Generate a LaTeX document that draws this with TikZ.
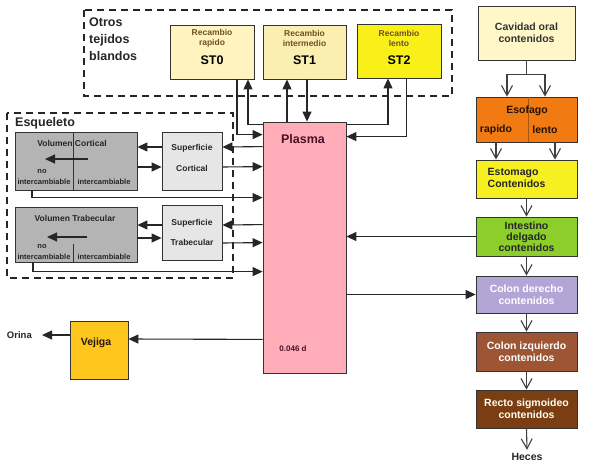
\documentclass[tikz,border=0pt]{standalone}
\usepackage{fontspec}
\setmainfont{Liberation Sans}
\usetikzlibrary{arrows.meta}
\definecolor{stzero}{HTML}{FFF4C0}
\definecolor{stone}{HTML}{FAEEB0}
\definecolor{sttwo}{HTML}{F8F018}
\definecolor{stxt}{HTML}{6E5220}
\definecolor{cavc}{HTML}{FFF7C8}
\definecolor{esoc}{HTML}{F27A12}
\definecolor{estc}{HTML}{F7F020}
\definecolor{intc}{HTML}{8CCF2A}
\definecolor{coldc}{HTML}{B3A6D6}
\definecolor{colic}{HTML}{9E5533}
\definecolor{recc}{HTML}{7A3E12}
\definecolor{plasc}{HTML}{FFADB9}
\definecolor{plast}{HTML}{4A1028}
\definecolor{volgc}{HTML}{B4B4B4}
\definecolor{supgc}{HTML}{E6E6E6}
\definecolor{vejc}{HTML}{FFC61E}
\begin{document}
\begin{tikzpicture}[x=1pt,y=-1pt,
  box/.style={draw=black!80, line width=0.8pt, inner sep=0pt},
  arr/.style={-{Triangle[length=10pt,width=9pt]}, line width=1.1pt, draw=black!85},
  garr/.style={-{Straight Barb[length=10pt,width=11pt,line width=1.1pt]}, line width=1.1pt, draw=black!75},
  dbox/.style={dash pattern=on 7pt off 5pt, line width=1.5pt, draw=black!85},
  ttl/.style={font=\fontsize{12.5}{17}\selectfont\bfseries, text=black!85},
  sm/.style={font=\fontsize{8.5}{10}\selectfont\bfseries},
  tiny/.style={font=\fontsize{7.5}{9}\selectfont\bfseries, text=black!85, inner sep=0pt},
  gi/.style={font=\fontsize{10.5}{12}\selectfont\bfseries, align=center},
]
\useasboundingbox (0,0) rectangle (592,464);
\fill[white] (0,0) rectangle (592,464);

% dashed groups
\draw[dbox] (84,10) rectangle (452,96);
\draw[dbox] (7,113) rectangle (233,278);
\node[ttl, anchor=north west, align=left, inner sep=0pt] (otros) at (89,18) {Otros\\tejidos\\blandos};
\node[ttl, anchor=west, inner sep=0pt] (esq) at (15,123) {Esqueleto};

% soft tissue boxes
\node[box, fill=stzero, minimum width=84pt, minimum height=54pt] (st0) at (212,52) {};
\node[sm, text=stxt, align=center] (st0a) at (212,38) {Recambio\\rapido};
\node[font=\fontsize{12.5}{14}\selectfont\bfseries] (st0b) at (212,60) {ST0};
\node[box, fill=stone, minimum width=83pt, minimum height=54pt] (st1) at (304.5,52) {};
\node[sm, text=stxt, align=center] (st1a) at (304.5,38) {Recambio\\intermedio};
\node[font=\fontsize{12.5}{14}\selectfont\bfseries] (st1b) at (304.5,60) {ST1};
\node[box, fill=sttwo, minimum width=84pt, minimum height=54pt] (st2) at (399,51) {};
\node[sm, text=stxt, align=center] (st2a) at (399,38) {Recambio\\lento};
\node[font=\fontsize{12.5}{14}\selectfont\bfseries] (st2b) at (399,60) {ST2};

% plasma
\node[box, fill=plasc, minimum width=83pt, minimum height=251pt] (plasma) at (304.5,247.5) {};
\node[font=\fontsize{12.5}{14}\selectfont\bfseries, text=plast] (plt) at (303,139) {Plasma};
\node[font=\fontsize{8}{10}\selectfont\bfseries, text=plast] (pld) at (293,349) {0.046 d};

% skeleton
\node[box, fill=volgc, minimum width=122pt, minimum height=58pt] (volc) at (76,161) {};
\node[box, fill=supgc, minimum width=60pt, minimum height=58pt] (supc) at (192,161) {};
\node[box, fill=volgc, minimum width=122pt, minimum height=55pt] (volt) at (76,234.5) {};
\node[box, fill=supgc, minimum width=60pt, minimum height=55pt] (supt) at (192,232.5) {};
\draw[line width=0.6pt, black!80] ([xshift=-3pt]volc.north) -- ([xshift=-3pt]volc.south);
\draw[line width=0.6pt, black!80] ([xshift=-3pt,yshift=-9pt]volt.center) -- ([xshift=-3pt]volt.south);
\node[sm, text=black!85] (volct) at (72,143) {Volumen Cortical};
\node[sm, text=black!85] (voltt) at (75,218) {Volumen Trabecular};
\node[tiny] (noc) at (42,172) {no};
\node[tiny] (icl) at (44,181.5) {intercambiable};
\node[tiny] (icr) at (104,181.5) {intercambiable};
\node[tiny] (not) at (42,247) {no};
\node[tiny] (itl) at (44,256.5) {intercambiable};
\node[tiny] (itr) at (104,256.5) {intercambiable};
\node[text=black!85, align=center, font=\fontsize{8.5}{21}\selectfont\bfseries] (supct) at (192,157.5) {Superficie\\Cortical};
\node[text=black!85, align=center, font=\fontsize{8.5}{20}\selectfont\bfseries] (suptt) at (192,232) {Superficie\\Trabecular};
\draw[arr] ([xshift=12pt,yshift=2pt]volc.center) -- ([xshift=-31pt,yshift=2pt]volc.center);
\draw[arr] ([xshift=11pt,yshift=-2.5pt]volt.center) -- ([xshift=-29pt,yshift=-2.5pt]volt.center);

% skeleton connectors
\draw[arr] ([yshift=14pt]supc.west) -- ([yshift=14pt]volc.east);
\draw[arr] ([yshift=-6pt]volc.east) -- ([yshift=-6pt]supc.west);
\draw[arr] ([yshift=-25pt]plasma.north west) -- ([yshift=14pt]supc.east);
\draw[arr] ([yshift=-6pt]supc.east) -- ([yshift=-45pt]plasma.north west);
\draw[arr] ([xshift=-44pt]volc.south) |- ([yshift=-76pt]plasma.north west);
\draw[arr] ([yshift=7.5pt]supt.west) -- ([yshift=9.5pt]volt.east);
\draw[arr] ([yshift=-3.5pt]volt.east) -- ([yshift=-5.5pt]supt.west);
\draw[arr] ([yshift=-103pt]plasma.north west) -- ([yshift=7.5pt]supt.east);
\draw[arr] ([yshift=-10.5pt]supt.east) -- ([yshift=-121pt]plasma.north west);
\draw[arr] ([xshift=-43pt]volt.south) |- ([yshift=-150pt]plasma.north west);

% soft tissue connectors
\draw[arr] ([xshift=25pt]st0.south) |- ([yshift=-13pt]plasma.north west);
\draw[arr] ([yshift=-3pt]plasma.north west) -| ([xshift=36pt]st0.south);
\draw[arr] ([xshift=-17.5pt]plasma.north) -- ([xshift=-17.5pt]st1.south);
\draw[arr] ([xshift=2.5pt]st1.south) -- ([xshift=2.5pt]plasma.north);
\draw[arr] ([yshift=-3pt]plasma.north east) -| ([xshift=-11pt]st2.south);
\draw[arr] ([xshift=7.5pt]st2.south) |- ([yshift=-15pt]plasma.north east);

% GI tract
\node[box, fill=cavc, minimum width=97pt, minimum height=54pt, gi, text=black!80] (cav) at (526.5,33) {Cavidad oral\\contenidos};
\node[box, fill=esoc, minimum width=101pt, minimum height=45pt] (eso) at (526.5,119.5) {};
\draw[line width=0.6pt, esoc!70!black] ([xshift=1.5pt]eso.north) -- ([xshift=1.5pt]eso.south);
\node[gi, text=black!85!esoc] (esot) at (527,111) {Esofago};
\node[gi, text=black!85!esoc] (esor) at (496,130) {rapido};
\node[gi, text=black!85!esoc] (esol) at (545,130) {lento};
\node[box, fill=estc, minimum width=101pt, minimum height=38pt] (est) at (526.5,179) {};
\node[gi, align=left, anchor=west, inner sep=0pt, text=black!85] (estt) at (487.5,177.5) {Estomago\\Contenidos};
\node[box, fill=intc, minimum width=101pt, minimum height=39pt, gi, text=black!85, font=\fontsize{10.5}{11}\selectfont\bfseries] (int) at (526.5,236.5) {Intestino\\delgado\\contenidos};
\node[box, fill=coldc, minimum width=101pt, minimum height=37pt, gi, text=white] (cold) at (526.5,294.5) {Colon derecho\\contenidos};
\node[box, fill=colic, minimum width=101pt, minimum height=39pt, gi, text=white] (coli) at (526.5,351.5) {Colon izquierdo\\contenidos};
\node[box, fill=recc, minimum width=101pt, minimum height=38pt, gi, text=white!95!yellow] (rec) at (526.5,409) {Recto sigmoideo\\contenidos};
\node[gi, text=black!85] (heces) at (527,457) {Heces};

\draw[garr] (cav.south) -- ++(0,14) -| ([xshift=-19.5pt]eso.north);
\draw[garr] (cav.south) -- ++(0,14) -| ([xshift=18.5pt]eso.north);
\draw[garr] ([xshift=-30.5pt]eso.south) -- ([xshift=-30.5pt]est.north);
\draw[garr] ([xshift=28.5pt]eso.south) -- ([xshift=28.5pt]est.north);
\draw[garr] (est.south) -- (int.north);
\draw[garr] (int.south) -- (cold.north);
\draw[garr] (cold.south) -- (coli.north);
\draw[garr] (coli.south) -- (rec.north);
\draw[garr] (rec.south) -- (heces.north);

\draw[arr] (int.west) -- (int.west -| plasma.east);
\draw[arr] (cold.west -| plasma.east) -- (cold.west);

% bladder
\node[box, fill=vejc, minimum width=58pt, minimum height=58pt] (vej) at (99,350) {};
\node[gi, text=black!80!brown] (vejt) at (96,343) {Vejiga};
\node[font=\fontsize{9.5}{11}\selectfont\bfseries, text=black!85, anchor=east, inner sep=1pt] (orina) at (33,335) {Orina};
\draw[arr] ([yshift=34pt]plasma.south west) -- ([yshift=11pt]vej.east);
\draw[arr] ([yshift=15pt]vej.west) -- ([xshift=9pt]orina.east);
\end{tikzpicture}
\end{document}
